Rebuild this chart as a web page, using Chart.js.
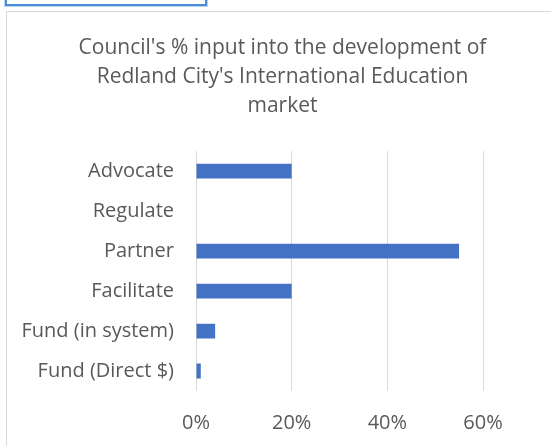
<!DOCTYPE html>
<html>
<head>
<meta charset="utf-8">
<script src="https://cdn.jsdelivr.net/npm/chart.js@4/dist/chart.umd.min.js"></script>
<style>
    html, body { margin: 0; padding: 0; background: #fff; overflow: hidden; }
    #wrap { position: relative; width: 551px; height: 446px; }
    #frame { position: absolute; left: 6px; top: 11px; width: 600px; height: 500px; border: 1px solid #d9d9d9; }
    #tab { position: absolute; left: 5px; top: -4px; width: 198px; height: 6px; border: 2px solid #4a90d9; outline: 1px solid #b9d3ef; }
    #chartBox { position: absolute; left: 0; top: 0; width: 551px; height: 446px; }
</style>
</head>
<body>
<div id="wrap">
    <div id="tab"></div>
    <div id="frame"></div>
    <div id="chartBox"><canvas id="inputChart" width="551" height="446"></canvas></div>
</div>
<script>
// Chart data
const titleLines = ["Council's % input into the development of", "Redland City's International Education", "market"];
const roles = ['Advocate', 'Regulate', 'Partner', 'Facilitate', 'Fund (in system)', 'Fund (Direct $)'];
const inputShare = [0.20, 0, 0.55, 0.20, 0.04, 0.01];
const xTicks = [0, 0.2, 0.4, 0.6];

const textColor = '#595959';
const fontFamily = "'Open Sans', 'Noto Sans', sans-serif";

// centre the title on the outer frame rather than on the padded chart box
const centreTitle = {
    id: 'centreTitle',
    afterLayout(chart) {
        if (chart.titleBlock) {
            chart.titleBlock.left = 7;
            chart.titleBlock.right = 558;
        }
    }
};

document.addEventListener('DOMContentLoaded', () => {
    const ctx = document.getElementById('inputChart').getContext('2d');

    new Chart(ctx, {
        type: 'bar',
        data: {
            labels: roles,
            datasets: [{
                data: inputShare,
                backgroundColor: '#4472C4',
                borderWidth: 0,
                barPercentage: 0.37,
                categoryPercentage: 1.0
            }]
        },
        plugins: [centreTitle],
        options: {
            indexAxis: 'y',
            responsive: false,
            animation: false,
            layout: { padding: { left: 0, right: 68, top: 0, bottom: 0 } },
            plugins: {
                legend: { display: false },
                tooltip: { enabled: false },
                title: {
                    display: true,
                    text: titleLines,
                    color: textColor,
                    font: { family: fontFamily, size: 21, weight: 'normal', lineHeight: 1.4 },
                    padding: { top: 33, bottom: 30 }
                }
            },
            scales: {
                x: {
                    min: 0,
                    max: 0.6,
                    afterBuildTicks: (scale) => {
                        scale.ticks = xTicks.map(v => ({ value: v }));
                    },
                    afterFit: (scale) => { scale.height = 55; },
                    grid: { color: '#d9d9d9', lineWidth: 1, drawTicks: false },
                    border: { display: false },
                    ticks: {
                        color: textColor,
                        font: { family: fontFamily, size: 20 },
                        padding: 20,
                        callback: (v) => Math.round(v * 100) + '%'
                    }
                },
                y: {
                    afterFit: (scale) => { scale.width = 196; },
                    grid: { display: false },
                    border: { display: false },
                    ticks: {
                        color: textColor,
                        font: { family: fontFamily, size: 20 },
                        padding: 14
                    }
                }
            }
        }
    });
});
</script>
</body>
</html>
